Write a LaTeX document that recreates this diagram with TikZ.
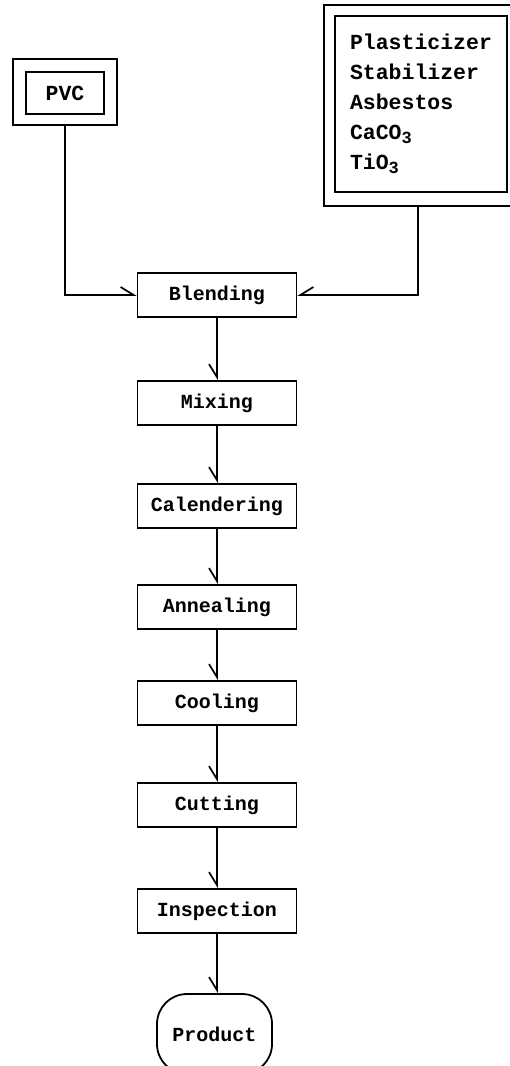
\documentclass[tikz,border=0pt]{standalone}
\usepackage{fontspec}
\setmonofont{Liberation Mono}
\usetikzlibrary{arrows.meta}
\newcommand{\subthree}{\raisebox{-0.35ex}{\fontsize{17}{17}\selectfont 3}}
\begin{document}
\begin{tikzpicture}[x=1pt,y=-1pt,
  every node/.style={font=\ttfamily\bfseries\fontsize{20}{24}\selectfont, inner sep=0pt},
  stepbox/.style={draw, line width=1.8pt, minimum width=159pt, minimum height=44pt},
  framebox/.style={draw, line width=1.8pt},
  flow/.style={line width=1.7pt, -{Straight Barb[harpoon, length=13pt, width=16pt, line width=1.7pt]}},
  flowswap/.style={line width=1.7pt, -{Straight Barb[harpoon, swap, length=13pt, width=16pt, line width=1.7pt]}}
]
\useasboundingbox (0,0) rectangle (510,1066);
\fill[white] (0,0) rectangle (510,1066);

% PVC double box
\node[framebox, minimum width=104pt, minimum height=66pt] (pvcouter) at (65,92) {};
\node[framebox, minimum width=78pt, minimum height=42pt, font=\ttfamily\bfseries\fontsize{21.5}{24}\selectfont] (pvc) at (65,93) {PVC};

% Additives double box
\node[framebox, minimum width=188pt, minimum height=201pt] (addouter) at (418,105.5) {};
\node[framebox, minimum width=172pt, minimum height=176pt, align=left,
      font=\ttfamily\bfseries\fontsize{21.5}{30}\selectfont] (add) at (421,104)
  {Plasticizer\\Stabilizer\\Asbestos\\CaCO\subthree\\TiO\subthree};

% Process steps
\node[stepbox] (blend) at (217,295) {Blending};
\node[stepbox] (mix)   at (217,403) {Mixing};
\node[stepbox] (cal)   at (217,506) {Calendering};
\node[stepbox] (ann)   at (217,607) {Annealing};
\node[stepbox] (cool)  at (217,703) {Cooling};
\node[stepbox] (cut)   at (217,805) {Cutting};
\node[stepbox] (insp)  at (217,911) {Inspection};
\node[draw, line width=1.8pt, rounded corners=30pt, minimum width=115pt, minimum height=80pt] (prod) at (214.5,1034) {Product};

% Connectors
\draw[flow] (pvcouter.south) |- (blend.west);
\draw[flowswap] (addouter.south) |- (blend.east);
\draw[flowswap] (blend) -- (mix);
\draw[flowswap] (mix) -- (cal);
\draw[flowswap] (cal) -- (ann);
\draw[flowswap] (ann) -- (cool);
\draw[flowswap] (cool) -- (cut);
\draw[flowswap] (cut) -- (insp);
\draw[flowswap] (insp.south) -- (insp.south |- prod.north);
\end{tikzpicture}
\end{document}
